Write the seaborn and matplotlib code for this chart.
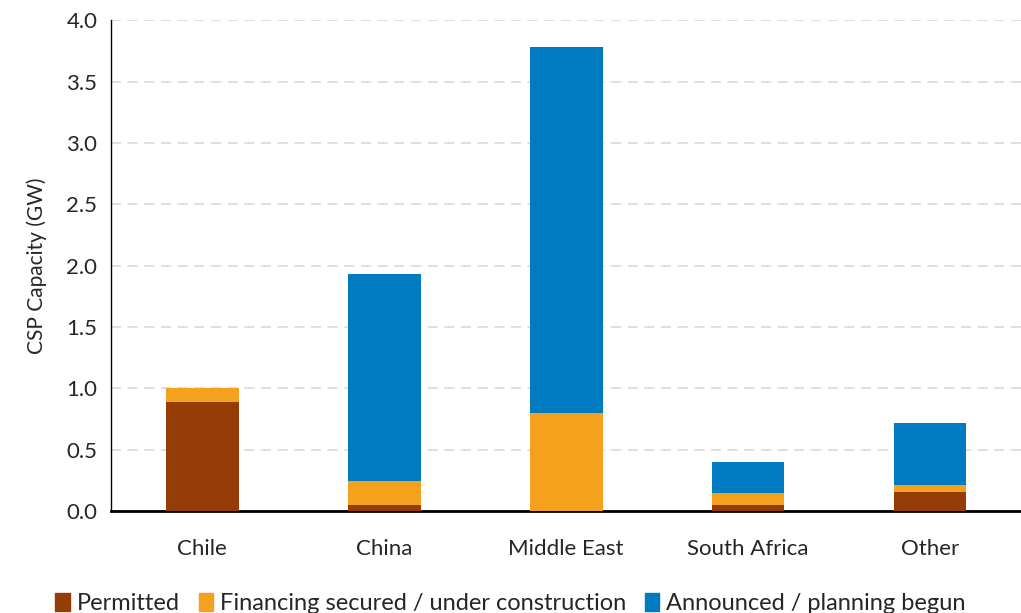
import numpy as np
import pandas as pd
import matplotlib
matplotlib.use("Agg")
import matplotlib.pyplot as plt
import seaborn as sns
from matplotlib.patches import Patch

# Data (GW)
regions = ["Chile", "China", "Middle East", "South Africa", "Other"]
permitted = [0.89, 0.05, 0.0, 0.05, 0.16]
financing = [0.11, 0.20, 0.80, 0.10, 0.05]
announced = [0.0, 1.68, 2.98, 0.25, 0.51]

labels = ["Permitted", "Financing secured / under construction", "Announced / planning begun"]
colors = ["#953C06", "#F5A11D", "#007AC0"]

sns.set_style("white")
plt.rcParams["font.family"] = ["Lato", "DejaVu Sans"]

df = pd.DataFrame({"region": regions, "permitted": permitted,
                   "financing": financing, "announced": announced})
df["lvl1"] = df["permitted"]
df["lvl2"] = df["permitted"] + df["financing"]
df["lvl3"] = df["lvl2"] + df["announced"]

fig = plt.figure(figsize=(10.21, 6.13), dpi=100)
ax = fig.add_axes([0.109, 0.166, 0.891, 0.801])

# stacked look: draw cumulative totals from the top layer down
for col, c in zip(["lvl3", "lvl2", "lvl1"], colors[::-1]):
    sns.barplot(data=df, x="region", y=col, color=c, width=0.4,
                saturation=1, ax=ax, linewidth=0, zorder=3)

ax.set_ylim(0, 4.0)
ax.set_yticks(np.arange(0, 4.01, 0.5))
ax.set_yticklabels([f"{v:.1f}" for v in np.arange(0, 4.01, 0.5)], fontsize=16)
ax.set_xlim(-0.5, 4.5)
ax.tick_params(axis="x", labelsize=16, length=0, pad=20)
ax.tick_params(axis="y", length=0, pad=10)
ax.set_xlabel("")
ax.set_ylabel("CSP Capacity (GW)", fontsize=15, labelpad=14)
ax.yaxis.grid(True, color="#D9D9D9", linestyle=(0, (6, 4)), linewidth=1.2, zorder=0)
ax.set_axisbelow(True)

for s in ["top", "right"]:
    ax.spines[s].set_visible(False)
ax.spines["left"].set_color("black")
ax.spines["left"].set_linewidth(1.0)
ax.spines["bottom"].set_color("black")
ax.spines["bottom"].set_linewidth(2.0)

handles = [Patch(color=c, label=l) for c, l in zip(colors, labels)]
fig.legend(handles=handles, loc="center", bbox_to_anchor=(0.5, 0.016), ncol=3,
           frameon=False, fontsize=17, handlelength=0.6, handleheight=0.8,
           handletextpad=0.3, columnspacing=0.8)

fig.savefig("out.png", dpi=100)
